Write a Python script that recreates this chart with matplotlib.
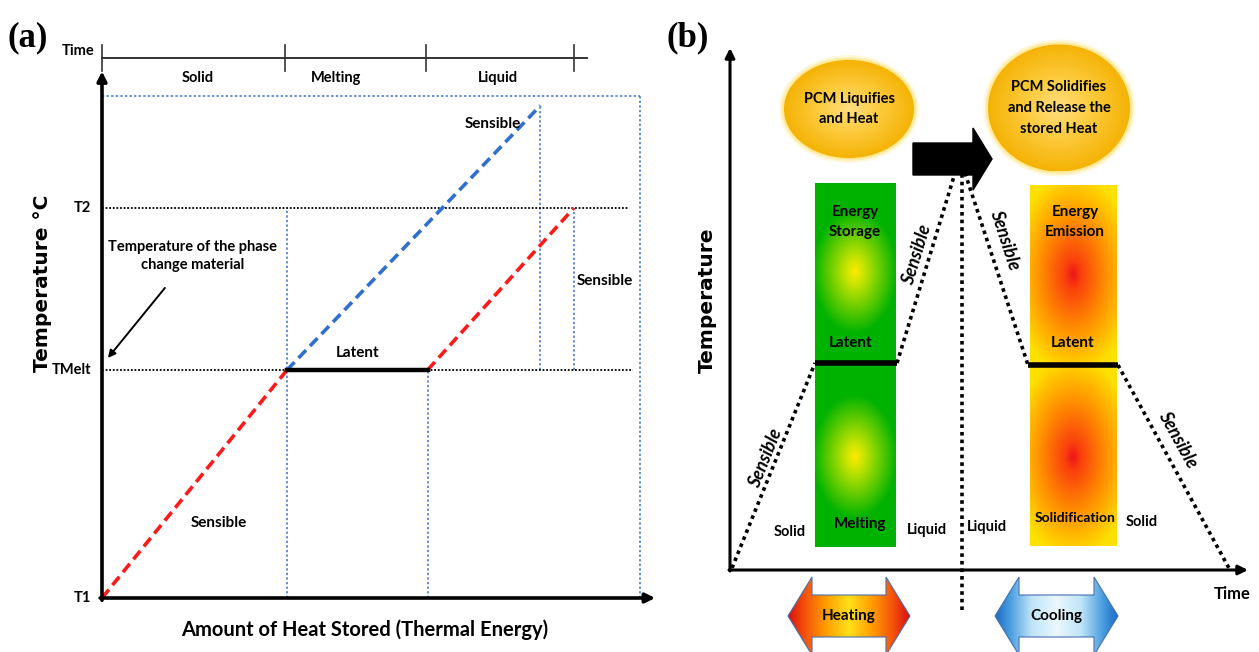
import numpy as np
import matplotlib.pyplot as plt
from matplotlib import font_manager
from matplotlib.patches import Ellipse, Polygon, Rectangle

names = {f.name for f in font_manager.fontManager.ttflist}
narrow = 'Liberation Sans Narrow' if 'Liberation Sans Narrow' in names else 'Lato'
plt.rcParams['font.family'] = [narrow, 'DejaVu Sans']
plt.rcParams['font.weight'] = 'bold'

W, H = 1259, 652

# ---------------- panel (a) data: heat stored (x) vs temperature (y), arbitrary units
time_ticks = [0, 0.99, 1.75, 2.55]
time_end = 2.62
time_level = 2.37
phase_names = ['Solid', 'Melting', 'Liquid']
phase_x = [0.52, 1.265, 2.14]

t_levels = [0, 1.0, 1.71]
t_names = ['T1', 'TMelt', 'T2']
t_top = 2.20

red_solid_q, red_solid_t = [0, 1.0], [0, 1.0]
latent_q, latent_t = [1.0, 1.76], [1.0, 1.0]
red_liquid_q, red_liquid_t = [1.76, 2.55], [1.0, 1.71]
blue_q, blue_t = [1.0, 2.37], [1.0, 2.16]

# vertical blue guides: (heat, temp from, temp to)
guides_q = [0, 1.0, 1.76, 2.37, 2.55, 2.91]
guides_lo = [0, 0, 0, 1.0, 1.0, 0]
guides_hi = [t_top, 1.71, 1.0, 2.16, 1.71, t_top]
box_right = 2.91
hline_end = [2.87, 2.85]

# ---------------- panel (b) data: time (x) vs temperature (y), arbitrary units
peak = (2.30, 3.97)
left_path_x = [0.02, 0.85, 1.67, 2.25]
left_path_y = [0.02, 2.07, 2.07, 3.97]
right_path_x = [2.35, 2.98, 3.88, 5.0]
right_path_y = [3.97, 2.05, 2.05, 0.0]
latent_b = [(0.85, 1.67, 2.07), (2.98, 3.88, 2.05)]
divider_x, divider_lo = 2.32, -0.40

green_box = (0.85, 0.23, 0.81, 3.64)
orange_box = (3.00, 0.24, 0.87, 3.61)
green_spots = [(1.25, 2.99), (1.25, 1.13)]
orange_spots = [(3.43, 2.96), (3.43, 1.13)]

bubbles = [((1.19, 4.61), 1.30, 0.98, 'PCM Liquifies\nand Heat'),
           ((3.29, 4.62), 1.42, 1.27, 'PCM Solidifies\nand Release the\nstored Heat')]

px_a, py_a, ox_a, oy_a = 185.0, 228.0, 102, 598
px_b, ox_b, oy_b = 100.0, 730, 570
split = 654.7

fig = plt.figure(figsize=(W / 100, H / 100), dpi=100)
ax = fig.add_axes([0, 0, split / W, 1])
ax.set_xlim(-ox_a / px_a, (split - ox_a) / px_a)
ax.set_ylim((oy_a - H) / py_a, oy_a / py_a)
ax.axis('off')

bx = fig.add_axes([split / W, 0, 1 - split / W, 1])
bx.set_xlim((split - ox_b) / px_b, (W - ox_b) / px_b)
bx.set_ylim((oy_b - H) / px_b, oy_b / px_b)
bx.axis('off')

blue_dot = dict(color='#3a6fd0', lw=1.1, ls=(0, (1.5, 1.5)))
black_dot = dict(color='black', lw=1.3, ls=(0, (1, 1)))
axis_arrow = dict(arrowstyle='-|>', lw=2.6, color='black', mutation_scale=14,
                  shrinkA=0, shrinkB=0)

# ---- panel (a)
ax.plot([0, box_right], [t_top, t_top], **blue_dot)
for q, lo, hi in zip(guides_q, guides_lo, guides_hi):
    ax.plot([q, q], [lo, hi], **blue_dot)
for lvl, end in zip(t_levels[1:], hline_end):
    ax.plot([0, end], [lvl, lvl], **black_dot)

ax.plot(red_solid_q, red_solid_t, color='#ff1a1a', lw=2.6, ls=(0, (3, 1.6)))
ax.plot(red_liquid_q, red_liquid_t, color='#ff1a1a', lw=2.6, ls=(0, (3, 1.6)))
ax.plot(blue_q, blue_t, color='#2f6fd0', lw=2.6, ls=(0, (3, 1.6)))
ax.plot(latent_q, latent_t, color='black', lw=3.2)

ax.annotate('', xy=(0, 2.31), xytext=(0, -0.01), arrowprops=axis_arrow)
ax.annotate('', xy=(2.99, 0), xytext=(-0.01, 0), arrowprops=axis_arrow)

ax.plot([0, time_end], [time_level, time_level], color='#333333', lw=1.4)
for q in time_ticks:
    ax.plot([q, q], [time_level - 0.057, time_level + 0.057], color='#333333', lw=1.2)
ax.text(-0.13, 2.40, 'Time', fontsize=10.5, ha='center', va='center')
for name, q in zip(phase_names, phase_x):
    ax.text(q, 2.28, name, fontsize=10.5, ha='center', va='center')

for lvl, name in zip(t_levels, t_names):
    ax.text(-0.06, lvl, name, fontsize=10.5, ha='right', va='center')
ax.text(-0.32, 1.38, 'Temperature °C', fontsize=14.5, rotation=90, ha='center', va='center',
        family='DejaVu Sans', weight='bold')
ax.text(-0.40, 2.456, '(a)', fontsize=25, ha='center', va='center',
        family='Liberation Serif', weight='bold')

ax.text(0.49, 1.50, 'Temperature of the phase\nchange material', fontsize=10.5,
        ha='center', va='center', linespacing=1.45)
ax.annotate('', xy=(0.032, 1.053), xytext=(0.34, 1.36),
            arrowprops=dict(arrowstyle='-|>', lw=1.4, color='black', mutation_scale=11,
                            shrinkA=0, shrinkB=0))
ax.text(1.38, 1.075, 'Latent', fontsize=11, ha='center', va='center')
ax.text(2.11, 2.08, 'Sensible', fontsize=11, ha='center', va='center')
ax.text(2.72, 1.39, 'Sensible', fontsize=11, ha='center', va='center')
ax.text(0.63, 0.33, 'Sensible', fontsize=11, ha='center', va='center')
ax.text(1.42, -0.14, 'Amount of Heat Stored (Thermal Energy)', fontsize=14.5,
        ha='center', va='center')


# ---- panel (b)
def shaded(axis, patch, extent, param, stops, colors, z):
    x0, x1, y0, y1 = extent
    xs = np.linspace(x0, x1, 240)
    ys = np.linspace(y0, y1, 240)
    X, Y = np.meshgrid(xs, ys)
    p = param(X, Y)
    cols = np.array(colors)
    img = np.dstack([np.interp(p, stops, cols[:, k]) for k in range(3)])
    patch.set_zorder(z)
    axis.add_patch(patch)
    im = axis.imshow(img, extent=extent, origin='lower', aspect='auto', zorder=z,
                     interpolation='bilinear')
    im.set_clip_path(patch)


def spot_dist(spots, rx, ry):
    def f(X, Y):
        return np.min([np.hypot((X - cx) / rx, (Y - cy) / ry) for cx, cy in spots], axis=0)
    return f


# bubbles
for (cx, cy), w, h, label in bubbles:
    for k, a in [(0.10, 0.25), (0.06, 0.45), (0.03, 0.7)]:
        bx.add_patch(Ellipse((cx, cy), w + k, h + k, facecolor='#ffe680', edgecolor='none',
                             alpha=a, zorder=2))
    e = Ellipse((cx, cy), w, h, facecolor='none', edgecolor='none')
    shaded(bx, e, (cx - w / 2, cx + w / 2, cy - h / 2, cy + h / 2),
           spot_dist([(cx, cy)], w / 2, h / 2), [0, 0.45, 1.0],
           [(1.0, 0.87, 0.50), (0.99, 0.80, 0.25), (0.96, 0.70, 0.02)], 3)
    bx.text(cx, cy, label, fontsize=10.5, ha='center', va='center', linespacing=1.6, zorder=5)

# boxes
x0, y0, w, h = green_box
shaded(bx, Rectangle((x0, y0), w, h, facecolor='none', edgecolor='none'),
       (x0, x0 + w, y0, y0 + h), spot_dist(green_spots, 0.42, 0.62), [0, 0.2, 1.0],
       [(1.0, 0.92, 0.0), (0.80, 0.90, 0.0), (0.0, 0.70, 0.0)], 3)
x0, y0, w, h = orange_box
shaded(bx, Rectangle((x0, y0), w, h, facecolor='none', edgecolor='none'),
       (x0, x0 + w, y0, y0 + h), spot_dist(orange_spots, 0.55, 0.92), [0, 0.15, 0.6, 1.1],
       [(0.93, 0.08, 0.10), (0.98, 0.25, 0.05), (1.0, 0.56, 0.0), (1.0, 0.88, 0.0)], 3)

# temperature path
dots = dict(color='black', lw=2.6, ls=(0, (1, 1.1)), zorder=4)
bx.plot(left_path_x[:2], left_path_y[:2], **dots)
bx.plot(left_path_x[2:], left_path_y[2:], **dots)
bx.plot(right_path_x[:2], right_path_y[:2], **dots)
bx.plot(right_path_x[2:], right_path_y[2:], **dots)
bx.plot([divider_x, divider_x], [divider_lo, peak[1]], **dots)
for a, b, lvl in latent_b:
    bx.plot([a, b], [lvl, lvl], color='black', lw=4, solid_capstyle='butt', zorder=5)

# big black arrow
bx.add_patch(Polygon([(1.83, 4.27), (2.43, 4.27), (2.43, 4.42), (2.62, 4.11),
                      (2.43, 3.80), (2.43, 3.95), (1.83, 3.95)],
                     facecolor='black', edgecolor='black', zorder=5))

# axes
bx.annotate('', xy=(0, 5.22), xytext=(0, -0.01), arrowprops=dict(axis_arrow, lw=2.2))
bx.annotate('', xy=(5.18, 0), xytext=(-0.01, 0), arrowprops=dict(axis_arrow, lw=2.2))
bx.text(-0.23, 2.70, 'Temperature', fontsize=14.5, rotation=90, ha='center', va='center',
        family='DejaVu Sans', weight='bold')
bx.text(5.02, -0.24, 'Time', fontsize=12, ha='center', va='center')
bx.text(-0.42, 5.32, '(b)', fontsize=25, ha='center', va='center',
        family='Liberation Serif', weight='bold')

# labels in the boxes and around them
box_texts = [(1.25, 3.48, 'Energy\nStorage', 11), (1.21, 2.27, 'Latent', 11),
             (1.30, 0.46, 'Melting', 11), (3.45, 3.48, 'Energy\nEmission', 11),
             (3.43, 2.27, 'Latent', 11), (3.45, 0.52, 'Solidification', 10),
             (0.60, 0.38, 'Solid', 10.5), (1.97, 0.40, 'Liquid', 10.5),
             (2.57, 0.43, 'Liquid', 10.5), (4.12, 0.48, 'Solid', 10.5)]
for x, y, s, fs in box_texts:
    bx.text(x, y, s, fontsize=fs, ha='center', va='center', linespacing=1.5, zorder=6)

sens_x = [0.36, 1.87, 2.75, 4.48]
sens_y = [1.12, 3.15, 3.30, 1.30]
sens_rot = [68, 73, -72, -61]
for x, y, r in zip(sens_x, sens_y, sens_rot):
    bx.text(x, y, 'Sensible', fontsize=13, rotation=r, style='italic', ha='center',
            va='center', rotation_mode='anchor', zorder=6)


# heating / cooling arrows
def double_arrow(xa, xb, yc, hb, hh, hl):
    return [(xa, yc), (xa + hl, yc + hh), (xa + hl, yc + hb), (xb - hl, yc + hb),
            (xb - hl, yc + hh), (xb, yc), (xb - hl, yc - hh), (xb - hl, yc - hb),
            (xa + hl, yc - hb), (xa + hl, yc - hh)]


arrows = [(0.58, 1.80, 'Heating', [(0.85, 0.05, 0.05), (0.95, 0.30, 0.05), (1.0, 0.60, 0.0),
                                   (1.0, 0.88, 0.10)]),
          (2.65, 3.88, 'Cooling', [(0.10, 0.42, 0.78), (0.30, 0.62, 0.88), (0.75, 0.90, 0.97),
                                   (0.92, 0.97, 1.0)])]
yc = -0.46
for xa, xb, label, cols in arrows:
    pts = double_arrow(xa, xb, yc, 0.21, 0.39, 0.24)
    xm, hw = (xa + xb) / 2, (xb - xa) / 2
    shaded(bx, Polygon(pts, facecolor='none', edgecolor='none'), (xa, xb, yc - 0.39, yc + 0.39),
           lambda X, Y, xm=xm, hw=hw: 1 - np.abs(X - xm) / hw, [0, 0.25, 0.6, 1.0], cols, 3)
    bx.add_patch(Polygon(pts, facecolor='none', edgecolor='#4a6fb0', lw=0.8, zorder=4))
    bx.text(xm, yc, label, fontsize=11, ha='center', va='center', zorder=6)

fig.savefig('out.png', dpi=100)
